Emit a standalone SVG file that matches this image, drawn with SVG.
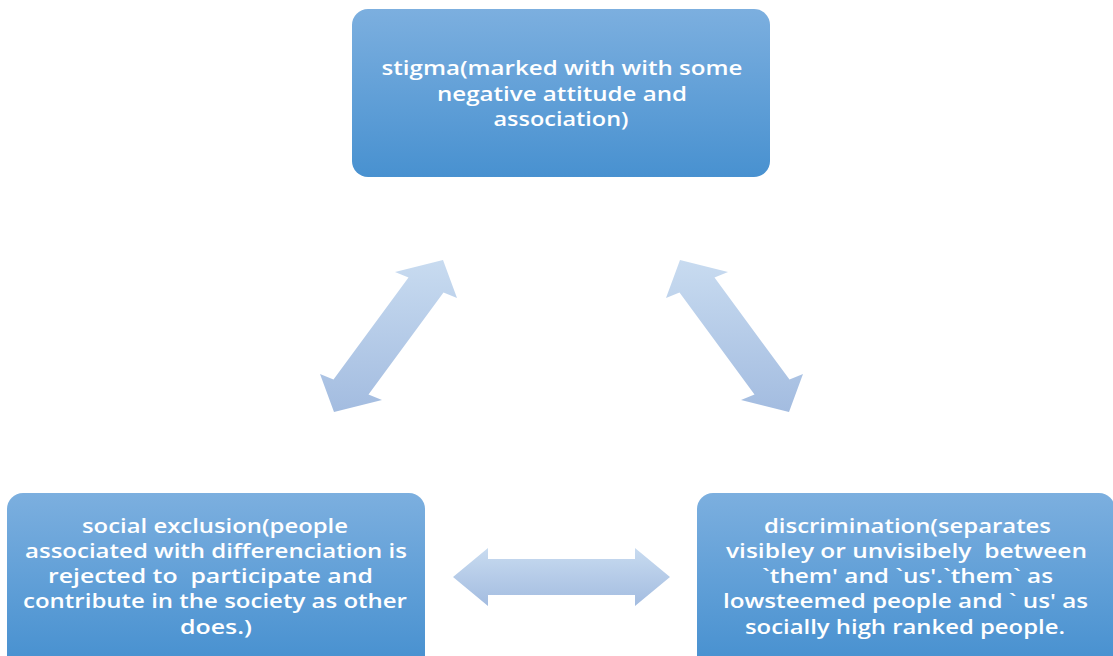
<svg xmlns="http://www.w3.org/2000/svg" width="1113" height="656" viewBox="0 0 1113 656">
  <defs>
    <linearGradient id="boxGrad" x1="0" y1="0" x2="0" y2="1">
      <stop offset="0" stop-color="#7cafdf"/>
      <stop offset="1" stop-color="#4891d0"/>
    </linearGradient>
    <linearGradient id="boxGrad2" gradientUnits="userSpaceOnUse" x1="0" y1="493" x2="0" y2="661">
      <stop offset="0" stop-color="#7cafdf"/>
      <stop offset="1" stop-color="#4891d0"/>
    </linearGradient>
    <linearGradient id="arrowGrad" x1="0" y1="0" x2="0" y2="1">
      <stop offset="0" stop-color="#c8dbf0"/>
      <stop offset="1" stop-color="#a3bce0"/>
    </linearGradient>
    <style>
      .box { fill: url(#boxGrad); }
      .box2 { fill: url(#boxGrad2); }
      .arrow { fill: url(#arrowGrad); }
      .lbl { font-family: "Open Sans", "Liberation Sans", sans-serif; font-size: 19px; font-weight: 600; fill: #ffffff; text-anchor: middle; white-space: pre; }
    </style>
  </defs>
  <rect width="1113" height="656" fill="#ffffff"/>

  <g id="connectors">
    <polygon class="arrow" points="443,260 457,298 443.5,292.4 368.5,394.4 382,400 334,412 320,374 333.5,379.6 408.5,277.6 395,272"/>
    <polygon class="arrow" points="680,260 666,298 679.5,292.4 754.5,394.4 741,400 789,412 803,374 789.5,379.6 714.5,277.6 728,272"/>
    <polygon class="arrow" points="453,577 488,548 488,559 635,559 635,548 670,577 635,606 635,595 488,595 488,606"/>
  </g>

  <g id="node-stigma">
    <rect class="box" x="352" y="9" width="418" height="168" rx="16" ry="16"/>
    <text class="lbl" x="562" y="75" textLength="361" lengthAdjust="spacingAndGlyphs">stigma(marked with with some</text>
    <text class="lbl" x="562" y="100.5" textLength="250" lengthAdjust="spacingAndGlyphs">negative attitude and</text>
    <text class="lbl" x="561" y="126" textLength="135" lengthAdjust="spacingAndGlyphs">association)</text>
  </g>

  <g id="node-exclusion">
    <rect class="box2" x="7" y="493" width="418" height="180" rx="16" ry="16"/>
    <text class="lbl" x="215" y="533" textLength="266" lengthAdjust="spacingAndGlyphs">social exclusion(people</text>
    <text class="lbl" x="216" y="558" textLength="382" lengthAdjust="spacingAndGlyphs">associated with differenciation is</text>
    <text class="lbl" x="210.5" y="583" textLength="325" lengthAdjust="spacingAndGlyphs" xml:space="preserve">rejected to  participate and</text>
    <text class="lbl" x="215" y="608" textLength="384" lengthAdjust="spacingAndGlyphs">contribute in the society as other</text>
    <text class="lbl" x="216" y="634" textLength="72" lengthAdjust="spacingAndGlyphs">does.)</text>
  </g>

  <g id="node-discrimination">
    <rect class="box2" x="697" y="493" width="418" height="180" rx="16" ry="16"/>
    <text class="lbl" x="907.5" y="533" textLength="287" lengthAdjust="spacingAndGlyphs">discrimination(separates</text>
    <text class="lbl" x="906.5" y="558" textLength="361" lengthAdjust="spacingAndGlyphs" xml:space="preserve">visibley or unvisibely  between</text>
    <text class="lbl" x="907.5" y="583" textLength="291" lengthAdjust="spacingAndGlyphs">`them' and `us'.`them` as</text>
    <text class="lbl" x="905.5" y="608" textLength="365" lengthAdjust="spacingAndGlyphs">lowsteemed people and ` us' as</text>
    <text class="lbl" x="905" y="634" textLength="320" lengthAdjust="spacingAndGlyphs">socially high ranked people.</text>
  </g>
</svg>
